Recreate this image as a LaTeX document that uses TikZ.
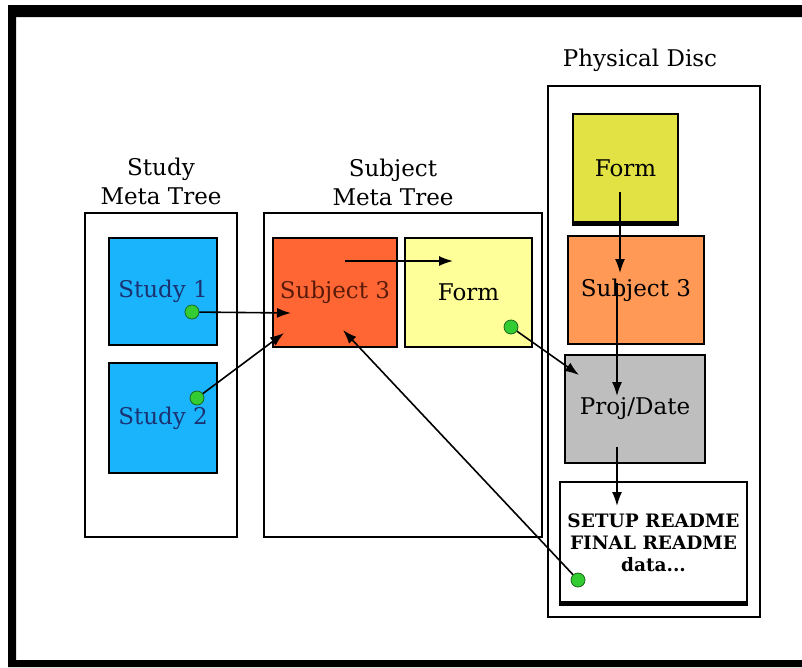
\documentclass[tikz,border=0pt]{standalone}
\usepackage{fontspec}
\setmainfont{DejaVu Serif}
\usetikzlibrary{arrows.meta}
\definecolor{studyblue}{HTML}{1AB4FC}
\definecolor{studytext}{HTML}{1A3270}
\definecolor{subjred}{HTML}{FF6633}
\definecolor{subjtext}{HTML}{5A1A0A}
\definecolor{formpale}{HTML}{FFFF99}
\definecolor{formyellow}{HTML}{E2E244}
\definecolor{subjorange}{HTML}{FF9955}
\definecolor{projgray}{HTML}{BEBEBE}
\definecolor{dotgreen}{HTML}{33CC33}
\definecolor{dotedge}{HTML}{1A661A}
\tikzset{
  panel/.style={draw=black, line width=1.6pt, fill=white},
  item/.style={draw=black, line width=1.8pt, inner sep=0pt, align=center,
    font=\fontsize{23}{27}\selectfont},
  heading/.style={align=center, font=\fontsize{23}{29}\selectfont},
  port/.style={circle, draw=dotedge, fill=dotgreen, line width=0.8pt,
    minimum size=14pt, inner sep=0pt},
  link/.style={line width=1.6pt, -{Latex[length=14pt,width=10pt]}},
  heavybase/.style={line width=5pt},
}
\begin{document}
\begin{tikzpicture}[x=1pt, y=-1pt]
  \useasboundingbox (0,0) rectangle (802,667);
  % outer frame (open on the right)
  \fill[black, even odd rule] (8,5) rectangle (802,667) (16,17) rectangle (802,660);

  % group panels
  \draw[panel] (85,213) rectangle (237,537);
  \draw[panel] (264,213) rectangle (542,537);
  \draw[panel] (548,86) rectangle (760,617);

  % headings
  \node[heading] (hstudy) at (161,181) {Study\\Meta Tree};
  \node[heading] (hsubj) at (393,182) {Subject\\Meta Tree};
  \node[heading] (hdisc) at (640,60) {Physical Disc};

  % study meta tree
  \node[item, fill=studyblue, text=studytext, minimum width=108pt, minimum height=107pt]
    (study1) at (163,291.5) {Study 1};
  \node[item, fill=studyblue, text=studytext, minimum width=108pt, minimum height=110pt]
    (study2) at (163,418) {Study 2};

  % subject meta tree
  \node[item, fill=subjred, text=subjtext, minimum width=124pt, minimum height=109pt]
    (msubj) at (335,292.5) {Subject 3};
  \node[item, fill=formpale, minimum width=127pt, minimum height=109pt]
    (mform) at (468.5,292.5) {Form};

  % physical disc
  \node[item, fill=formyellow, minimum width=105pt, minimum height=109pt]
    (pform) at (625.5,168.5) {Form};
  \draw[heavybase] (pform.south west) -- (pform.south east);
  \node[item, fill=subjorange, minimum width=136pt, minimum height=108pt]
    (psubj) at (636,290) {Subject 3};
  \node[item, fill=projgray, minimum width=140pt, minimum height=108pt]
    (pproj) at (635,409) {Proj/Date};
  \node[item, fill=white, minimum width=187pt, minimum height=121pt,
    font=\bfseries\fontsize{18.5}{22}\selectfont]
    (preadme) at (653.5,542.5) {SETUP README\\FINAL README\\data...};
  \draw[heavybase] (preadme.south west) -- (preadme.south east);

  % connector end points inside boxes
  \coordinate (e1) at (291,313);
  \coordinate (e2) at (284,333);
  \coordinate (e3a) at (345,261);
  \coordinate (e3b) at (453,261);
  \coordinate (e4) at (579,375);
  \coordinate (e5) at (343,330);
  \coordinate (e6a) at (620,192);
  \coordinate (e6b) at (620,273);
  \coordinate (e7a) at (617,283);
  \coordinate (e7b) at (617,396);
  \coordinate (e8a) at (617,447);
  \coordinate (e8b) at (617,506);

  % ports
  \node[port] (d1) at (192,312) {};
  \node[port] (d2) at (197,398) {};
  \node[port] (d3) at (511,327) {};
  \node[port] (d4) at (578,580) {};

  % links
  \draw[link] (d1) -- (e1);
  \draw[link] (d2) -- (e2);
  \draw[link] (e3a) -- (e3b);
  \draw[link] (d3) -- (e4);
  \draw[link] (d4) -- (e5);
  \draw[link] (e6a) -- (e6b);
  \draw[link] (e7a) -- (e7b);
  \draw[link] (e8a) -- (e8b);
\end{tikzpicture}
\end{document}
